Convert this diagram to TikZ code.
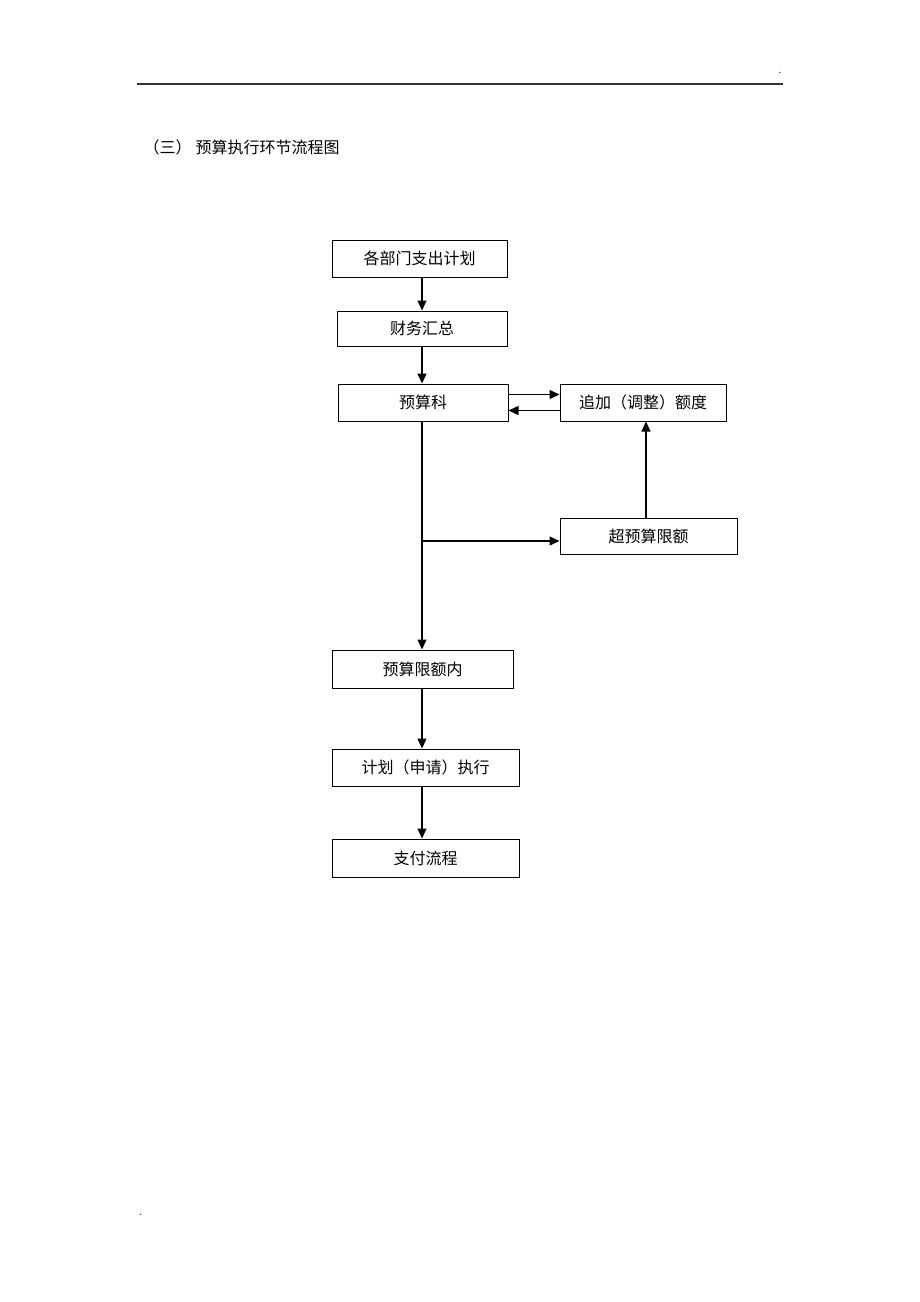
\documentclass[tikz,border=0pt]{standalone}
\usepackage{fontspec}
\newfontfamily\cjk{Noto Sans CJK SC}
\usetikzlibrary{arrows.meta}
\tikzset{
  box/.style={draw, line width=1pt, rectangle, inner sep=0pt, font=\cjk\fontsize{16}{19}\selectfont},
  arr/.style={line width=1.3pt, -{Triangle[length=10pt,width=9pt]}}
}
\begin{document}
\begin{tikzpicture}[x=1pt,y=-1pt]
      \useasboundingbox (0,0) rectangle (920,1302);
      % page header and title
      \draw[line width=1.2pt, black!80] (137,84) -- (783,84);
      \node (hdot) at (780,73) {\fontsize{13}{13}\selectfont .};
      \node (fdot) at (141,1215) {\fontsize{13}{13}\selectfont .};
      \node[anchor=west, font=\cjk\fontsize{16}{19}\selectfont] (title) at (140,147) {（三）\hspace{4pt}预算执行环节流程图};
      % boxes
      \draw
        (419.5,258.5) node[box, minimum width=175, minimum height=37] (b1){各部门支出计划}
        (422,328.5) node[box, minimum width=170, minimum height=35] (b2){财务汇总}
        (423,402.5) node[box, minimum width=170, minimum height=37] (b3){预算科}
        (643,402.5) node[box, minimum width=166, minimum height=37] (b4){追加（调整）额度}
        (648.5,536) node[box, minimum width=177, minimum height=36] (b5){超预算限额}
        (422.5,669) node[box, minimum width=181, minimum height=38] (b6){预算限额内}
        (425.5,767.5) node[box, minimum width=187, minimum height=37] (b7){计划（申请）执行}
        (425.5,858) node[box, minimum width=187, minimum height=38] (b8){支付流程};
      \coordinate (spine) at (422,0);
      \coordinate (fork) at (422,541);
      \coordinate (up) at (646,0);
      \begin{scope}[arr]
        \draw (b1.south -| spine) to (b2.north -| spine);
        \draw (b2.south -| spine) to (b3.north -| spine);
        \draw ([yshift=8pt]b3.east) to ([yshift=8pt]b4.west);
        \draw ([yshift=-8pt]b4.west) to ([yshift=-8pt]b3.east);
        \draw (b3.south -| spine) to (b6.north -| spine);
        \draw (fork) to (fork -| b5.west);
        \draw (b5.north -| up) to (b4.south -| up);
        \draw (b6.south -| spine) to (b7.north -| spine);
        \draw (b7.south -| spine) to (b8.north -| spine);
      \end{scope}
    \end{tikzpicture}
\end{document}
